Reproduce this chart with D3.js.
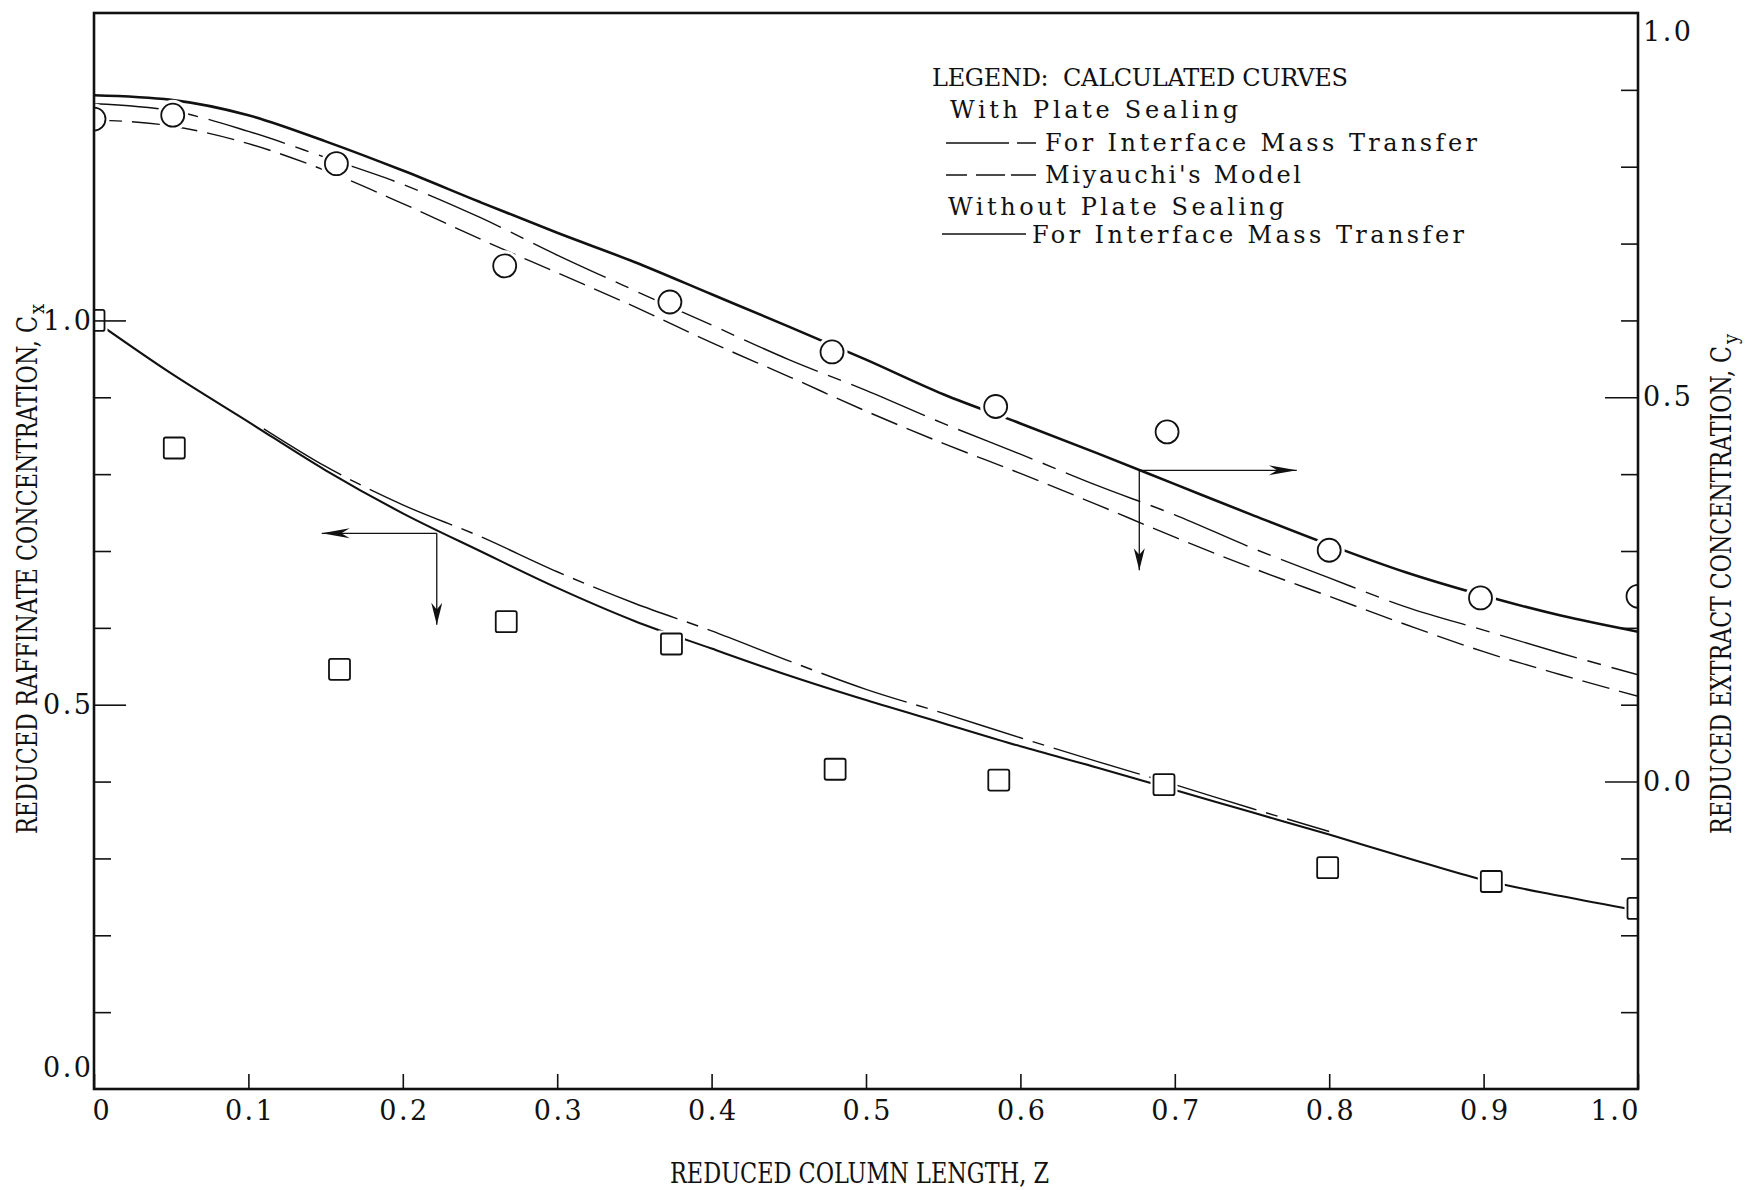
<!DOCTYPE html>
<html>
<head>
<meta charset="utf-8">
<script src="https://cdn.jsdelivr.net/npm/d3@7"></script>
<style>
  html, body { margin: 0; padding: 0; background: #fff; }
  svg { display: block; }
  text { font-family: "DejaVu Serif Condensed", "DejaVu Serif", "Liberation Serif", serif; fill: #111; white-space: pre; }
  text.wide { font-family: "DejaVu Serif", "Liberation Serif", serif; }
</style>
</head>
<body>
<svg id="chart" width="1746" height="1190"></svg>
<script>
// Reduced column length Z on which the calculated curves are tabulated
const zGrid = [0, 0.05, 0.10, 0.15, 0.20, 0.25, 0.30, 0.35, 0.40, 0.45, 0.50,
               0.55, 0.60, 0.65, 0.70, 0.75, 0.80, 0.85, 0.90, 0.95, 1.00];

// Extract phase, reduced concentration Cy (right axis) — calculated curves
const cyNoSealing        = [0.893, 0.887, 0.867, 0.833, 0.795, 0.754, 0.714, 0.676, 0.634, 0.592, 0.549,
                            0.504, 0.466, 0.427, 0.387, 0.347, 0.308, 0.272, 0.242, 0.216, 0.195];
const cySealingInterface = [0.882, 0.873, 0.846, 0.812, 0.777, 0.734, 0.685, 0.639, 0.594, 0.549, 0.509,
                            0.466, 0.426, 0.385, 0.347, 0.304, 0.265, 0.227, 0.197, 0.167, 0.139];
const cyMiyauchi         = [0.861, 0.853, 0.830, 0.795, 0.752, 0.706, 0.662, 0.618, 0.571, 0.527, 0.482,
                            0.440, 0.401, 0.360, 0.318, 0.278, 0.241, 0.204, 0.169, 0.139, 0.111];

// Raffinate phase, reduced concentration Cx (left axis) — calculated curves
const cxNoSealing        = [1.000, 0.931, 0.868, 0.805, 0.749, 0.700, 0.652, 0.609, 0.573, 0.538, 0.506,
                            0.476, 0.446, 0.418, 0.389, 0.360, 0.331, 0.301, 0.272, 0.251, 0.232];
const zSealingRaff       = [0.11, 0.15, 0.20, 0.25, 0.30, 0.35, 0.40, 0.45, 0.50, 0.55, 0.60, 0.65, 0.70, 0.75, 0.80];
const cxSealingInterface = [0.859, 0.810, 0.760, 0.719, 0.673, 0.632, 0.596, 0.557, 0.520, 0.489, 0.457,
                            0.426, 0.396, 0.365, 0.335];

// Measured points
const zExtract   = [0, 0.051, 0.157, 0.266, 0.373, 0.478, 0.584, 0.695, 0.800, 0.898, 1.0];
const cyMeasured = [0.862, 0.867, 0.804, 0.671, 0.624, 0.559, 0.488, 0.455, 0.301, 0.239, 0.241];
const zRaff      = [0, 0.052, 0.159, 0.267, 0.374, 0.480, 0.586, 0.693, 0.799, 0.905, 1.0];
const cxMeasured = [1.000, 0.834, 0.546, 0.608, 0.579, 0.416, 0.402, 0.396, 0.288, 0.270, 0.235];

// Axis ticks and labels
const zTicks   = [0, 0.1, 0.2, 0.3, 0.4, 0.5, 0.6, 0.7, 0.8, 0.9, 1.0];
const cxTicks  = [0, 0.1, 0.2, 0.3, 0.4, 0.5, 0.6, 0.7, 0.8, 0.9, 1.0];
const cxLabels = [0, 0.5, 1.0];
const cyTicks  = [-0.3, -0.2, -0.1, 0, 0.1, 0.2, 0.3, 0.4, 0.5, 0.6, 0.7, 0.8, 0.9, 1.0];
const cyLabels = [0, 0.5, 1.0];

// Pointers telling which axis each family of curves belongs to
const extractArrow   = { z: 0.677, c: 0.405, toZ: 0.779, toC: 0.275 };
const raffinateArrow = { z: 0.222, c: 0.723, toZ: 0.1475, toC: 0.604 };

// Legend rows
const legendRows = [
  { text: "LEGEND:  CALCULATED CURVES", x: 932, y: 86 },
  { text: "With Plate Sealing", x: 950, y: 118 },
  { text: "For Interface Mass Transfer", x: 1045, y: 151, key: { x1: 946, x2: 1036, y: 143, dash: "63,8,19,60", w: 1.4 } },
  { text: "Miyauchi's Model", x: 1045, y: 183, key: { x1: 946, x2: 1036, y: 175, dash: "21,9,29,6,25,60", w: 1.4 } },
  { text: "Without Plate Sealing", x: 948, y: 215 },
  { text: "For Interface Mass Transfer", x: 1032, y: 243, key: { x1: 942, x2: 1026, y: 234, dash: null, w: 1.6 } }
];

const W = 1746, H = 1190;
const box = { left: 94, right: 1638, top: 13, bottom: 1089 };
const ink = "#111";
const pitch = 16;   // typewriter character pitch in px

const svg = d3.select("#chart");
svg.append("rect").attr("width", W).attr("height", H).attr("fill", "#fff");

const x   = d3.scaleLinear().domain([0, 1]).range([box.left, box.right]);
const yCx = d3.scaleLinear().domain([0, 1.4]).range([box.bottom, box.top]);
const yCy = d3.scaleLinear().domain([-0.4, 1.0]).range([box.bottom, box.top]);

svg.append("defs").append("clipPath").attr("id", "plotClip")
  .append("rect")
  .attr("x", box.left).attr("y", box.top)
  .attr("width", box.right - box.left).attr("height", box.bottom - box.top);

const plot = svg.append("g").attr("clip-path", "url(#plotClip)");

// Calculated curves
const curves = [
  { z: zGrid,        v: cyNoSealing,        y: yCy, width: 2.6, dash: null },
  { z: zGrid,        v: cySealingInterface, y: yCy, width: 1.4, dash: "80,11,14,11" },
  { z: zGrid,        v: cyMiyauchi,         y: yCy, width: 1.4, dash: "28,10" },
  { z: zGrid,        v: cxNoSealing,        y: yCx, width: 2.1, dash: null },
  { z: zSealingRaff, v: cxSealingInterface, y: yCx, width: 1.4, dash: "90,10,12,10" }
];
curves.forEach(c => {
  const line = d3.line()
    .x((d, i) => x(c.z[i]))
    .y(d => c.y(d))
    .curve(d3.curveMonotoneX);
  plot.append("path")
    .attr("d", line(c.v))
    .attr("fill", "none")
    .attr("stroke", ink)
    .attr("stroke-width", c.width)
    .attr("stroke-dasharray", c.dash);
});

// Measured points: open circles (extract) and open squares (raffinate)
const circlePts = zExtract.map((z, i) => ({ z, v: cyMeasured[i] }));
const squarePts = zRaff.map((z, i) => ({ z, v: cxMeasured[i] }));
const rC = 11.5, sq = 21;

plot.selectAll("circle.halo").data(circlePts).join("circle")
  .attr("class", "halo")
  .attr("cx", d => x(d.z)).attr("cy", d => yCy(d.v)).attr("r", rC + 4)
  .attr("fill", "#fff");
plot.selectAll("rect.halo").data(squarePts).join("rect")
  .attr("class", "halo")
  .attr("x", d => x(d.z) - sq / 2 - 3).attr("y", d => yCx(d.v) - sq / 2 - 3)
  .attr("width", sq + 6).attr("height", sq + 6)
  .attr("fill", "#fff");

plot.selectAll("circle.pt").data(circlePts).join("circle")
  .attr("class", "pt")
  .attr("cx", d => x(d.z)).attr("cy", d => yCy(d.v)).attr("r", rC)
  .attr("fill", "#fff").attr("stroke", ink).attr("stroke-width", 1.8);
plot.selectAll("rect.pt").data(squarePts).join("rect")
  .attr("class", "pt")
  .attr("x", d => x(d.z) - sq / 2).attr("y", d => yCx(d.v) - sq / 2)
  .attr("width", sq).attr("height", sq).attr("rx", 2)
  .attr("fill", "#fff").attr("stroke", ink).attr("stroke-width", 1.8);

// Pointer arrows
function arrowHead(g, tx, ty, dx, dy, len, half) {
  const px = -dy, py = dx;
  const bx = tx - dx * len, by = ty - dy * len;
  const nx = tx - dx * len * 0.7, ny = ty - dy * len * 0.7;
  const p = d3.path();
  p.moveTo(tx, ty);
  p.lineTo(bx + px * half, by + py * half);
  p.lineTo(nx, ny);
  p.lineTo(bx - px * half, by - py * half);
  p.closePath();
  g.append("path").attr("d", p.toString()).attr("fill", ink);
}
function pointer(a, yScale, horizDir) {
  const g = svg.append("g");
  const ox = x(a.z), oy = yScale(a.c);
  const hx = x(a.toZ), vy = yScale(a.toC);
  g.append("line").attr("x1", ox).attr("y1", oy).attr("x2", hx).attr("y2", oy)
    .attr("stroke", ink).attr("stroke-width", 1.3);
  g.append("line").attr("x1", ox).attr("y1", oy).attr("x2", ox).attr("y2", vy)
    .attr("stroke", ink).attr("stroke-width", 1.3);
  arrowHead(g, hx, oy, horizDir, 0, 28, 5);
  arrowHead(g, ox, vy, 0, 1, 22, 5.5);
}
pointer(extractArrow, yCy, 1);
pointer(raffinateArrow, yCx, -1);

// Axes with inward ticks
const fmt = d3.format(".1f");
const near = (a, b) => Math.abs(a - b) < 1e-9;
function styleLabels(sel, fmtFn) {
  sel.attr("class", "wide")
    .attr("font-size", 27)
    .attr("font-family", null)
    .attr("fill", ink)
    .attr("lengthAdjust", "spacing")
    .attr("textLength", d => fmtFn(d).length ? fmtFn(d).length * pitch : null);
}

const zFmt = d => near(d, 0) ? "0" : fmt(d);
const gx = svg.append("g")
  .attr("transform", `translate(0,${box.bottom})`)
  .call(d3.axisBottom(x).tickValues(zTicks).tickSizeInner(-15).tickSizeOuter(0).tickFormat(zFmt));
gx.select(".domain").remove();
gx.selectAll(".tick line").attr("stroke", ink).attr("stroke-width", 1.6);
gx.selectAll(".tick text")
  .attr("y", 31).attr("dy", null)
  .attr("x", d => near(d, 0) ? -2 : 0)
  .attr("text-anchor", d => near(d, 0) ? "start" : near(d, 1) ? "end" : "middle")
  .call(styleLabels, zFmt);

const cxFmt = d => cxLabels.some(v => near(v, d)) ? fmt(d) : "";
const gl = svg.append("g")
  .attr("transform", `translate(${box.left},0)`)
  .call(d3.axisLeft(yCx).tickValues(cxTicks).tickSizeInner(-17).tickSizeOuter(0).tickFormat(cxFmt));
gl.select(".domain").remove();
gl.selectAll(".tick line")
  .attr("x2", d => near(d, 0) ? 0 : (near(d, 0.5) || near(d, 1.0)) ? 32 : 17)
  .attr("stroke", ink).attr("stroke-width", 1.6);
gl.selectAll(".tick text")
  .attr("x", -3)
  .attr("y", d => near(d, 0) ? -21 : 0)
  .call(styleLabels, cxFmt);

const cyFmt = d => cyLabels.some(v => near(v, d)) ? fmt(d) : "";
const gr = svg.append("g")
  .attr("transform", `translate(${box.right},0)`)
  .call(d3.axisRight(yCy).tickValues(cyTicks).tickSizeInner(-17).tickSizeOuter(0).tickFormat(cyFmt));
gr.select(".domain").remove();
gr.selectAll(".tick line")
  .attr("x2", d => near(d, 1.0) ? 0 : (near(d, 0.5) || near(d, 0)) ? -33 : -17)
  .attr("stroke", ink).attr("stroke-width", 1.6);
gr.selectAll(".tick text")
  .attr("x", 5)
  .attr("y", d => near(d, 1.0) ? 19 : 0)
  .call(styleLabels, cyFmt);

// Plot frame
svg.append("rect")
  .attr("x", box.left).attr("y", box.top)
  .attr("width", box.right - box.left).attr("height", box.bottom - box.top)
  .attr("fill", "none").attr("stroke", ink).attr("stroke-width", 2.6);

// Axis titles in condensed typewriter lettering; a subscript follows each
// rotated title as its own text so the main run can be fitted to length.
function title(g, main, sub, len) {
  g.append("text")
    .attr("font-size", 28)
    .attr("textLength", len)
    .attr("lengthAdjust", "spacingAndGlyphs")
    .text(main);
  if (sub) {
    g.append("text")
      .attr("x", len + 2).attr("y", 7)
      .attr("font-size", 20)
      .text(sub);
  }
}
title(svg.append("g").attr("transform", "translate(670,1183)"), "REDUCED COLUMN LENGTH, Z", null, 379);
title(svg.append("g").attr("transform", "translate(37,834) rotate(-90)"), "REDUCED RAFFINATE CONCENTRATION, C", "x", 518);
title(svg.append("g").attr("transform", "translate(1731,834) rotate(-90)"), "REDUCED EXTRACT CONCENTRATION, C", "y", 488);

// Legend
const lg = svg.append("g");
legendRows.forEach(r => {
  lg.append("text")
    .attr("class", "wide")
    .attr("x", r.x).attr("y", r.y)
    .attr("font-size", 24)
    .attr("textLength", r.text.length * pitch)
    .attr("lengthAdjust", "spacing")
    .text(r.text);
  if (r.key) {
    lg.append("line")
      .attr("x1", r.key.x1).attr("x2", r.key.x2)
      .attr("y1", r.key.y).attr("y2", r.key.y)
      .attr("stroke", ink).attr("stroke-width", r.key.w)
      .attr("stroke-dasharray", r.key.dash);
  }
});
</script>
</body>
</html>
